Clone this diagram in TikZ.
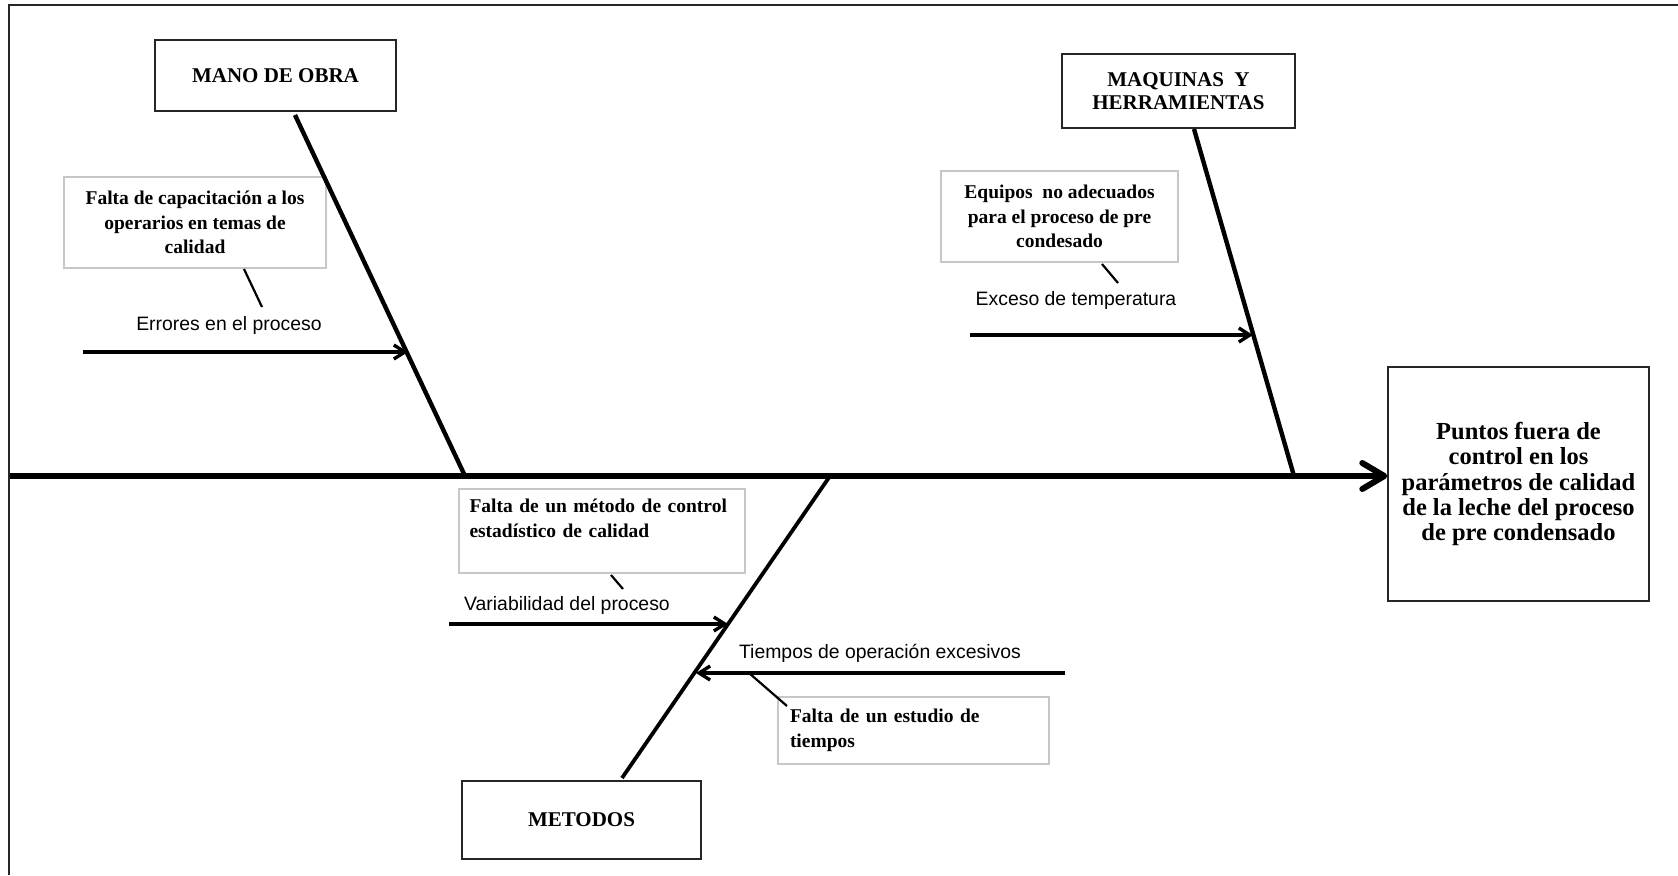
\documentclass[tikz,border=0pt]{standalone}
\usepackage{fontspec}
\setmainfont{Liberation Serif}
\newfontfamily\labfont{Liberation Sans}
\usetikzlibrary{arrows.meta}

\tikzset{
  catbox/.style={draw=black!85, line width=0.7pt, align=center, inner sep=0pt,
    font=\bfseries\fontsize{10.5}{11.5}\selectfont},
  causebox/.style={draw=black!22, line width=0.6pt, inner sep=0pt,
    font=\bfseries\fontsize{9.75}{12.4}\selectfont},
  efbox/.style={draw=black!85, line width=0.7pt, align=center, inner sep=0pt,
    font=\bfseries\fontsize{12.25}{12.6}\selectfont},
  lab/.style={inner sep=0pt, font=\labfont\fontsize{9.7}{11}\selectfont},
  spine/.style={line width=3pt, -{Straight Barb[length=11pt,width=13pt,line cap=round,line join=round]}},
  bone/.style={line width=2.2pt},
  sub/.style={line width=1.7pt, -{Straight Barb[length=5.5pt,width=7pt]}},
  leader/.style={line width=1.1pt},
}

\begin{document}
\begin{tikzpicture}[x=0.5pt,y=-0.5pt]

          \useasboundingbox (0,0) rectangle (1678,875);
          \draw[line width=1pt, black!85] (9,875) -- (9,5) -- (1678,5);

          % categories and effect
          \node[catbox, minimum width=120.5pt, minimum height=35.5pt] (mano) at (275.5,75.5) {MANO DE OBRA};
          \node[catbox, minimum width=116.5pt, minimum height=37pt] (maq) at (1178.5,91) {MAQUINAS\ \ Y\\HERRAMIENTAS};
          \node[catbox, minimum width=119.5pt, minimum height=39pt] (met) at (581.5,820) {METODOS};
          \node[efbox, minimum width=130.5pt, minimum height=117pt] (efecto) at (1518.5,484)
            {Puntos fuera de\\control en los\\parámetros de calidad\\de la leche del proceso\\de pre condensado};

          % causes
          \node[causebox, align=center, minimum width=131pt, minimum height=45.5pt] (cap) at (195,222.5)
            {Falta de capacitación a los\\operarios en temas de\\calidad};
          \node[causebox, align=center, minimum width=118.5pt, minimum height=45.5pt] (equ) at (1059.5,216.5)
            {Equipos\ \ no adecuados\\para el proceso de pre\\condesado};
          \node[causebox, align=left, text width=132.5pt, minimum width=143pt, minimum height=42pt] (fmet) at (602,531)
            {\makebox[132.5pt][s]{Falta de un método de control}\\estadístico de calidad\\\mbox{}};
          \node[causebox, align=left, text width=123.5pt, minimum width=135.5pt, minimum height=33.5pt] (fest) at (913.5,730.5)
            {Falta de un estudio de\\tiempos};

          % effects on the bones
          \node[lab] (lerr) at (229,325) {Errores en el proceso};
          \node[lab] (lexc) at (1076,300) {Exceso de temperatura};
          \node[lab] (lvar) at (567,605) {Variabilidad del proceso};
          \node[lab] (ltie) at (880,653) {Tiempos de operación excesivos};

          % spine and bones
          \coordinate (s0) at (10,476);
          \coordinate (b1a) at (295,115);
          \coordinate (b1b) at (465,476);
          \coordinate (b2a) at (1194,129);
          \coordinate (b2b) at (1294,476);
          \coordinate (b3a) at (830,476);
          \coordinate (b3b) at (622,778);

          \draw[spine] (s0) -- (s0 -| efecto.west);
          \draw[bone] (b1a) -- (b1b);
          \draw[bone] (b2a) -- (b2b);
          \draw[bone, line width=1.9pt] (b3a) -- (b3b);

          % small arrows
          \coordinate (a1) at (83,352);   \coordinate (a1t) at (408,352);
          \coordinate (a2) at (970,335);  \coordinate (a2t) at (1253,335);
          \coordinate (a3) at (449,624);  \coordinate (a3t) at (728,624);
          \coordinate (a4) at (1065,673); \coordinate (a4t) at (696,673);

          \draw[sub] (a1) -- (a1t);
          \draw[sub] (a2) -- (a2t);
          \draw[sub] (a3) -- (a3t);
          \draw[sub] (a4) -- (a4t);

          % leaders
          \coordinate (k1) at (244,269);  \coordinate (k1b) at (262,307);
          \coordinate (k2) at (1102,264); \coordinate (k2b) at (1118,283);
          \coordinate (k3) at (611,575);  \coordinate (k3b) at (623,589);
          \coordinate (k4) at (749,673);  \coordinate (k4b) at (787,706);

          \draw[leader] (k1) -- (k1b);
          \draw[leader] (k2) -- (k2b);
          \draw[leader] (k3) -- (k3b);
          \draw[leader] (k4) -- (k4b);

         \end{tikzpicture}
\end{document}
